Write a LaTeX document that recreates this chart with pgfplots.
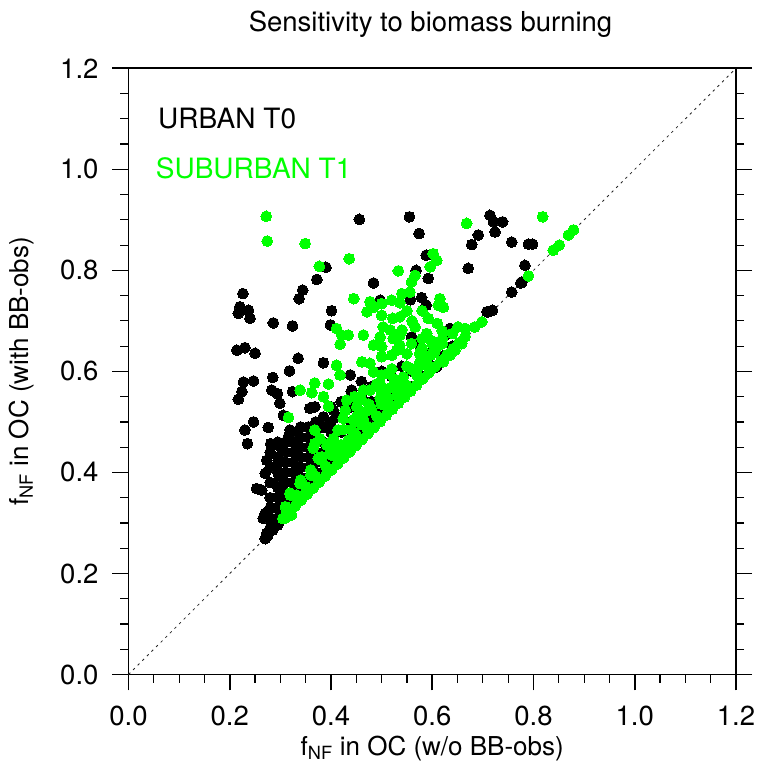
\documentclass[border=0pt]{standalone}
\usepackage{fontspec}
\setmainfont{TeX Gyre Heros}
\usepackage{pgfplots}
\usepackage{pgfplotstable}
\pgfplotsset{compat=1.18}

\definecolor{nclgreen}{rgb}{0,1,0}

% urban site T0 (black)
\pgfplotstableread{
x y
0.456 0.901
0.555 0.906
0.574 0.873
0.714 0.909
0.721 0.896
0.739 0.896
0.724 0.876
0.691 0.870
0.678 0.851
0.757 0.856
0.790 0.852
0.798 0.852
0.671 0.804
0.783 0.810
0.777 0.777
0.757 0.757
0.708 0.718
0.719 0.721
0.390 0.806
0.372 0.782
0.344 0.761
0.337 0.744
0.226 0.754
0.220 0.728
0.237 0.721
0.217 0.715
0.240 0.705
0.286 0.696
0.324 0.690
0.214 0.642
0.230 0.647
0.250 0.636
0.335 0.626
0.385 0.617
0.318 0.601
0.285 0.588
0.227 0.579
0.247 0.581
0.224 0.560
0.217 0.545
0.401 0.720
0.399 0.692
0.484 0.775
0.497 0.741
0.568 0.800
0.592 0.784
0.588 0.830
0.557 0.742
0.579 0.746
0.588 0.731
0.283 0.563
0.294 0.556
0.299 0.537
0.324 0.560
0.358 0.527
0.368 0.530
0.306 0.513
0.247 0.500
0.230 0.484
0.235 0.457
0.276 0.489
0.281 0.457
0.299 0.452
0.319 0.484
0.316 0.471
0.405 0.523
0.411 0.510
0.438 0.593
0.441 0.563
0.273 0.424
0.270 0.398
0.294 0.417
0.299 0.391
0.253 0.368
0.263 0.365
0.270 0.319
0.266 0.309
0.273 0.279
0.270 0.269
0.283 0.299
0.635 0.685
0.625 0.672
0.609 0.609
0.576 0.649
0.559 0.668
0.572 0.655
0.775 0.775
0.711 0.718
0.280 0.290
0.280 0.310
0.280 0.330
0.280 0.350
0.280 0.380
0.280 0.410
0.280 0.440
0.295 0.310
0.295 0.330
0.295 0.350
0.295 0.370
0.295 0.400
0.295 0.430
0.295 0.460
0.310 0.320
0.310 0.340
0.310 0.360
0.310 0.380
0.310 0.400
0.310 0.420
0.310 0.440
0.310 0.460
0.325 0.340
0.325 0.360
0.325 0.380
0.325 0.400
0.325 0.420
0.325 0.440
0.325 0.460
0.325 0.480
0.340 0.350
0.340 0.370
0.340 0.390
0.340 0.410
0.340 0.430
0.340 0.450
0.340 0.470
0.340 0.490
0.355 0.370
0.355 0.390
0.355 0.410
0.355 0.430
0.355 0.450
0.355 0.470
0.355 0.490
0.370 0.380
0.370 0.400
0.370 0.420
0.370 0.440
0.370 0.460
0.370 0.480
0.370 0.500
0.385 0.400
0.385 0.420
0.385 0.440
0.385 0.460
0.385 0.490
0.385 0.510
0.400 0.410
0.400 0.430
0.400 0.450
0.400 0.480
0.400 0.500
0.400 0.530
0.420 0.430
0.420 0.450
0.420 0.480
0.420 0.510
0.420 0.540
0.440 0.450
0.440 0.470
0.440 0.500
0.440 0.530
0.440 0.560
0.460 0.470
0.460 0.490
0.460 0.520
0.460 0.550
0.460 0.580
0.480 0.490
0.480 0.510
0.480 0.540
0.480 0.570
0.500 0.510
0.500 0.530
0.500 0.560
0.500 0.600
0.520 0.530
0.520 0.550
0.520 0.590
0.540 0.550
0.540 0.570
0.540 0.610
0.560 0.570
0.560 0.600
0.580 0.590
0.580 0.620
0.600 0.610
0.600 0.640
0.620 0.630
0.640 0.650
0.275 0.275
0.285 0.286
0.295 0.296
}\urban

% suburban site T1 (green)
\pgfplotstableread{
x y
0.272 0.907
0.274 0.858
0.349 0.853
0.436 0.823
0.377 0.808
0.533 0.799
0.602 0.833
0.609 0.820
0.596 0.807
0.566 0.790
0.559 0.777
0.668 0.893
0.818 0.906
0.790 0.789
0.839 0.840
0.851 0.850
0.869 0.870
0.879 0.880
0.445 0.744
0.540 0.754
0.556 0.757
0.520 0.741
0.536 0.736
0.477 0.738
0.484 0.727
0.500 0.734
0.471 0.718
0.500 0.711
0.615 0.744
0.612 0.731
0.622 0.727
0.522 0.705
0.536 0.708
0.592 0.705
0.411 0.685
0.421 0.672
0.434 0.672
0.418 0.654
0.464 0.672
0.503 0.688
0.517 0.682
0.497 0.668
0.523 0.665
0.540 0.682
0.536 0.672
0.566 0.688
0.589 0.675
0.484 0.652
0.500 0.649
0.536 0.652
0.559 0.655
0.609 0.649
0.596 0.632
0.576 0.619
0.572 0.609
0.500 0.629
0.520 0.632
0.530 0.642
0.461 0.619
0.477 0.616
0.484 0.599
0.500 0.593
0.513 0.596
0.411 0.612
0.418 0.593
0.497 0.576
0.510 0.563
0.520 0.569
0.536 0.563
0.550 0.563
0.543 0.589
0.563 0.602
0.368 0.577
0.339 0.563
0.395 0.575
0.362 0.558
0.385 0.550
0.395 0.531
0.431 0.543
0.447 0.550
0.464 0.563
0.477 0.563
0.497 0.547
0.513 0.547
0.536 0.550
0.523 0.530
0.580 0.645
0.600 0.655
0.605 0.640
0.620 0.665
0.316 0.509
0.428 0.523
0.451 0.530
0.467 0.520
0.444 0.504
0.464 0.504
0.471 0.487
0.447 0.477
0.424 0.507
0.414 0.484
0.368 0.484
0.378 0.467
0.368 0.457
0.365 0.448
0.392 0.454
0.405 0.467
0.411 0.451
0.434 0.464
0.398 0.438
0.382 0.431
0.418 0.434
0.375 0.428
0.339 0.378
0.319 0.359
0.332 0.355
0.352 0.362
0.312 0.322
0.322 0.316
0.309 0.309
0.651 0.688
0.665 0.685
0.684 0.688
0.698 0.698
0.622 0.619
0.635 0.632
0.645 0.642
0.658 0.655
0.305 0.309
0.317 0.321
0.329 0.333
0.341 0.345
0.353 0.357
0.365 0.369
0.377 0.381
0.389 0.393
0.401 0.405
0.413 0.417
0.425 0.429
0.437 0.441
0.449 0.453
0.461 0.465
0.473 0.477
0.485 0.489
0.497 0.501
0.509 0.513
0.521 0.525
0.533 0.537
0.545 0.549
0.557 0.561
0.569 0.573
0.581 0.585
0.593 0.597
0.605 0.609
0.617 0.621
0.629 0.633
0.641 0.645
0.653 0.657
0.665 0.669
0.310 0.332
0.330 0.352
0.350 0.372
0.370 0.392
0.390 0.412
0.410 0.432
0.430 0.452
0.450 0.472
0.470 0.492
0.490 0.512
0.510 0.532
0.530 0.552
0.550 0.572
0.570 0.592
0.590 0.612
0.340 0.385
0.360 0.405
0.380 0.425
0.440 0.485
0.480 0.525
0.560 0.605
0.580 0.625
0.320 0.355
0.360 0.395
0.400 0.435
0.420 0.455
0.460 0.495
0.500 0.535
0.540 0.575
0.600 0.635
0.620 0.655
0.640 0.675
0.400 0.460
0.425 0.485
0.450 0.510
0.475 0.535
0.500 0.560
0.525 0.585
0.550 0.610
0.575 0.635
0.600 0.660
0.620 0.680
0.460 0.545
0.490 0.575
0.520 0.605
0.550 0.635
0.580 0.665
0.610 0.695
0.560 0.700
0.580 0.720
0.550 0.720
}\suburban

\begin{document}
\begin{tikzpicture}
    \begin{axis}[
            at={(0pt,0pt)},
            anchor=south west,
            scale only axis,
            width=607.5pt,
            height=606.2pt,
            xmin=0, xmax=1.2,
            ymin=0, ymax=1.2,
            xtick={0,0.2,0.4,0.6,0.8,1.0,1.2},
            ytick={0,0.2,0.4,0.6,0.8,1.0,1.2},
            xticklabels={0.0,0.2,0.4,0.6,0.8,1.0,1.2},
            yticklabels={0.0,0.2,0.4,0.6,0.8,1.0,1.2},
            minor x tick num=3,
            minor y tick num=3,
            tick align=outside,
            xtick pos=left,
            ytick pos=both,
            yticklabel pos=left,
            major tick length=16pt,
            minor tick length=8pt,
            axis line style={line width=1.6pt},
            major tick style={line width=1.6pt, black},
            minor tick style={line width=1.2pt, black},
            tick label style={font=\fontsize{27.5}{32}\selectfont},
            xticklabel style={yshift=-12pt},
            yticklabel style={xshift=-10.5pt},
        ]

        \addplot[only marks, mark=*, mark size=5.4pt, color=black,
            mark options={fill=black, line width=0pt}] table {\urban};

        \addplot[only marks, mark=*, mark size=5.4pt, color=nclgreen,
            mark options={fill=nclgreen, line width=0pt}] table {\suburban};

        % 1:1 line
        \addplot[black!85, line width=0.8pt, dash pattern=on 2.5pt off 4pt]
            coordinates {(0,0) (1.2,1.2)};
    \end{axis}

    \node[anchor=base] at (302pt, 643pt)
        {\fontsize{27.5}{32}\selectfont Sensitivity to biomass burning};
    \node[anchor=base] at (303.75pt, -80.5pt)
        {\fontsize{26}{31}\selectfont f\textsubscript{NF} in OC (w/o BB-obs)};
    \node[anchor=base, rotate=90] at (-100.2pt, 303.1pt)
        {\fontsize{26}{31}\selectfont f\textsubscript{NF} in OC (with BB-obs)};

    \node[anchor=base west, inner sep=0pt] at (29.5pt, 546.2pt)
        {\fontsize{28}{33}\selectfont URBAN T0};
    \node[anchor=base west, inner sep=0pt, text=nclgreen] at (27.2pt, 495.5pt)
        {\fontsize{28}{33}\selectfont SUBURBAN T1};

    \pgfresetboundingbox
    \path (-128.5pt,-101.5pt) rectangle (632.5pt,674.5pt);
\end{tikzpicture}
\end{document}
